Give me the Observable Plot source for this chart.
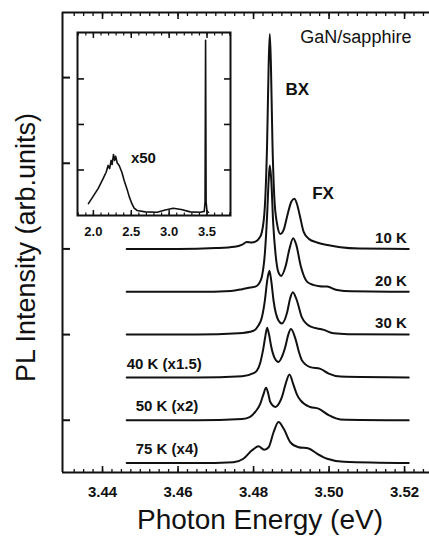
<!DOCTYPE html>
<html><head><meta charset="utf-8">
<script src="https://cdn.jsdelivr.net/npm/d3@7"></script>
<script src="https://cdn.jsdelivr.net/npm/@observablehq/plot@0.6"></script>
<style>
html,body{margin:0;padding:0;background:#fff;}
#wrap{position:relative;width:429px;height:542px;overflow:hidden;}
#inset{position:absolute;left:76px;top:31px;}
</style></head><body>
<div id="wrap"><div id="main"></div><div id="inset"></div></div>
<script>
// ---- main panel data: photon energy (eV) and PL intensity above each baseline (arb. units)
const labels = ["10 K", "20 K", "30 K", "40 K (x1.5)", "50 K (x2)", "75 K (x4)"];
const offsets = [5, 4, 3, 2, 1, 0];

const e10 = [3.4464,3.4600,3.4700,3.4750,3.4770,3.4782,3.4795,3.4805,3.4815,3.4822,3.4830,3.4836,3.4840,3.4843,3.4846,3.4850,3.4855,3.4862,3.4871,3.4880,3.4890,3.4900,3.4908,3.4915,3.4922,3.4933,3.4946,3.4968,3.5003,3.5030,3.5080,3.5211];
const h10 = [0,0,0.02,0.05,0.10,0.16,0.15,0.17,0.25,0.39,1.0,2.5,4.3,5.02,4.3,2.5,1.2,0.6,0.35,0.45,0.8,1.1,1.17,1.05,0.8,0.39,0.24,0.15,0.08,0.04,0.01,0];

const e20 = [3.4464,3.4650,3.4740,3.4770,3.4792,3.4805,3.4815,3.4822,3.4830,3.4836,3.4840,3.4843,3.4847,3.4852,3.4858,3.4866,3.4873,3.4885,3.4895,3.4905,3.4913,3.4925,3.4942,3.4958,3.4975,3.4995,3.5021,3.5060,3.5211];
const h20 = [0,0,0.02,0.06,0.10,0.12,0.20,0.35,0.9,1.8,2.6,2.95,2.6,1.6,0.9,0.45,0.37,0.6,1.0,1.25,1.1,0.6,0.23,0.16,0.13,0.12,0.04,0.01,0];

const e30 = [3.4464,3.4650,3.4760,3.4800,3.4812,3.4822,3.4830,3.4836,3.4842,3.4847,3.4853,3.4866,3.4875,3.4889,3.4897,3.4904,3.4915,3.4928,3.4950,3.4986,3.5012,3.5050,3.5211];
const h30 = [0,0,0.03,0.09,0.2,0.4,0.8,1.25,1.49,1.25,0.79,0.33,0.26,0.52,0.85,0.99,0.79,0.4,0.19,0.11,0.03,0.01,0];

const e40 = [3.4464,3.4650,3.4770,3.4800,3.4809,3.4818,3.4825,3.4831,3.4836,3.4841,3.4847,3.4856,3.4866,3.4876,3.4884,3.4892,3.4899,3.4911,3.4920,3.4928,3.4950,3.4977,3.4999,3.5030,3.5211];
const h40 = [0,0,0.03,0.1,0.16,0.35,0.63,0.95,1.16,1.0,0.71,0.45,0.36,0.5,0.71,1.0,1.13,0.9,0.6,0.4,0.24,0.2,0.09,0.02,0];

const e50 = [3.4464,3.4650,3.4770,3.4791,3.4805,3.4818,3.4826,3.4833,3.4839,3.4844,3.4858,3.4868,3.4875,3.4885,3.4895,3.4906,3.4915,3.4924,3.4950,3.4972,3.4999,3.5030,3.5211];
const h50 = [0,0,0.03,0.08,0.2,0.39,0.6,0.76,0.62,0.43,0.31,0.4,0.54,0.85,1.07,0.82,0.6,0.47,0.31,0.27,0.12,0.02,0];

const e75 = [3.4464,3.4650,3.4747,3.4773,3.4796,3.4813,3.4828,3.4840,3.4853,3.4866,3.4880,3.4897,3.4919,3.4946,3.4968,3.4995,3.5039,3.5211];
const h75 = [0,0,0.02,0.1,0.3,0.39,0.31,0.37,0.72,0.96,0.8,0.49,0.37,0.34,0.22,0.1,0.03,0];

// ---- inset data (wide range, x50)
const insetE = [1.934,1.996,2.062,2.128,2.168,2.194,2.214,2.234,2.247,2.265,2.280,2.294,2.313,2.340,2.376,2.406,2.442,2.472,2.508,2.538,2.578,2.684,2.843,2.948,3.054,3.160,3.279,3.411,3.464,3.474,3.481,3.488,3.500,3.520];
const insetI = [0.26,0.42,0.59,0.81,0.95,1.10,1.03,1.21,1.12,1.34,1.21,1.30,1.16,1.10,0.95,0.77,0.59,0.42,0.26,0.16,0.11,0.08,0.07,0.12,0.16,0.13,0.08,0.07,0.09,0.3,3.85,0.3,0.09,0.07];

// ---- ticks
const xMajor = [3.44, 3.46, 3.48, 3.50, 3.52];
const xMinor = d3.range(3.4325, 3.5270, 0.0025);
const yTicks = [1, 3, 5, 7, 9];
const insetXMajor = [2.0, 2.5, 3.0, 3.5];
const insetXMinor = d3.range(1.8, 3.81, 0.1);
const insetYTicks = [1, 2, 3];

const X0 = 3.4294, X1 = 3.5266, Y0 = -0.22, Y1 = 10.52;

const es = [e10, e20, e30, e40, e50, e75];
const hs = [h10, h20, h30, h40, h50, h75];
const spectra = labels.map((T, k) => ({T, off: offsets[k], E: es[k], h: hs[k]}));
const rows = spectra.flatMap(s => s.E.map((e, i) => ({T: s.T, E: e, I: s.h[i] + s.off})));
const insetRows = insetE.map((e, i) => ({E: e, I: insetI[i]}));

const font = "'Liberation Sans', Arial, Helvetica, sans-serif";
const ink = "#111";

const main = Plot.plot({
  width: 429, height: 542,
  marginLeft: 62, marginTop: 12, marginRight: 0, marginBottom: 70,
  x: {domain: [X0, X1]},
  y: {domain: [Y0, Y1]},
  style: {fontFamily: font, color: ink, background: "#fff"},
  marks: [
    Plot.ruleY([Y0], {strokeWidth: 2}),
    Plot.ruleY([Y1], {strokeWidth: 2}),
    Plot.ruleX([X0], {strokeWidth: 2}),
    Plot.axisX({anchor: "bottom", ticks: xMinor, tickSize: -3, fill: "none", label: null, strokeWidth: 1.3}),
    Plot.axisX({anchor: "bottom", ticks: xMajor, tickSize: -6, fill: "none", label: null, strokeWidth: 1.6}),
    Plot.axisX({anchor: "bottom", ticks: xMajor, tickSize: 0, tickPadding: 14, tickFormat: d3.format(".2f"), fontSize: 15, fontWeight: "bold", label: null}),
    Plot.axisX({anchor: "top", ticks: xMinor, tickSize: -3, fill: "none", label: null, strokeWidth: 1.3}),
    Plot.axisX({anchor: "top", ticks: xMajor, tickSize: -6, fill: "none", label: null, strokeWidth: 1.6}),
    Plot.axisY({anchor: "left", ticks: yTicks, tickSize: -8, fill: "none", label: null, strokeWidth: 2}),
    Plot.line(rows, {x: "E", y: "I", z: "T", curve: "monotone-x", strokeWidth: 2, stroke: ink}),
    Plot.text(spectra.slice(0, 3), {x: s => s.E[s.E.length - 1], y: "off", text: "T", textAnchor: "end", dy: -11, dx: -2, fontSize: 15, fontWeight: "bold"}),
    Plot.text(spectra.slice(3, 4), {x: s => s.E[0], y: "off", text: "T", textAnchor: "start", dy: -13, fontSize: 15, fontWeight: "bold"}),
    Plot.text(spectra.slice(4), {x: s => s.E[0], y: "off", text: "T", textAnchor: "start", dx: 9, dy: -14, fontSize: 15, fontWeight: "bold"}),
    Plot.text(["GaN/sapphire"], {x: 3.5071, y: 9.94, text: d => d, fontSize: 18}),
    Plot.text(["BX"], {x: 3.4916, y: 8.71, text: d => d, fontSize: 17, fontWeight: "bold"}),
    Plot.text(["FX"], {x: 3.4984, y: 6.29, text: d => d, fontSize: 17, fontWeight: "bold"}),
    Plot.text(["Photon Energy (eV)"], {frameAnchor: "bottom", text: d => d, textAnchor: "middle", lineAnchor: "middle", dx: 14, dy: 48, fontSize: 28}),
    Plot.text(["PL Intensity (arb.units)"], {frameAnchor: "left", text: d => d, textAnchor: "middle", lineAnchor: "middle", rotate: -90, dx: -36, dy: 5, fontSize: 27})
  ]
});
document.getElementById("main").appendChild(main);

const inset = Plot.plot({
  width: 156, height: 208,
  marginLeft: 1, marginRight: 2, marginTop: 1, marginBottom: 24,
  x: {domain: [1.79, 3.81]},
  y: {domain: [0, 4.02]},
  style: {fontFamily: font, color: ink, background: "transparent", overflow: "visible"},
  marks: [
    Plot.frame({strokeWidth: 2}),
    Plot.axisX({anchor: "bottom", ticks: insetXMinor, tickSize: -2.5, fill: "none", label: null, strokeWidth: 1.2}),
    Plot.axisX({anchor: "bottom", ticks: insetXMajor, tickSize: -5, fill: "none", label: null, strokeWidth: 1.5}),
    Plot.axisX({anchor: "bottom", ticks: insetXMajor, tickSize: 0, tickPadding: 11, tickFormat: d3.format(".1f"), fontSize: 13, fontWeight: "bold", label: null}),
    Plot.axisX({anchor: "top", ticks: insetXMinor, tickSize: -2.5, fill: "none", label: null, strokeWidth: 1.2}),
    Plot.axisX({anchor: "top", ticks: insetXMajor, tickSize: -5, fill: "none", label: null, strokeWidth: 1.5}),
    Plot.axisY({anchor: "left", ticks: insetYTicks, tickSize: -7, fill: "none", label: null, strokeWidth: 1.6}),
    Plot.axisY({anchor: "right", ticks: insetYTicks, tickSize: -7, fill: "none", label: null, strokeWidth: 1.6}),
    Plot.line(insetRows, {x: "E", y: "I", strokeWidth: 1.6, stroke: ink}),
    Plot.text(["x50"], {x: 2.66, y: 1.25, text: d => d, fontSize: 15, fontWeight: "bold"})
  ]
});
document.getElementById("inset").appendChild(inset);
</script>
</body></html>
